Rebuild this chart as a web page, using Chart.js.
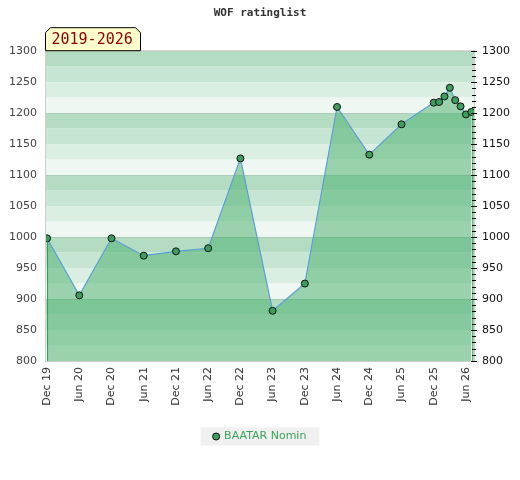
<!DOCTYPE html>
<html>
<head>
<meta charset="utf-8">
<script src="https://cdn.jsdelivr.net/npm/chart.js@4.4.1/dist/chart.umd.min.js"></script>
<style>
  html, body { margin: 0; padding: 0; background: #fff; }
</style>
</head>
<body>
<canvas id="myChart" width="520" height="480"></canvas>
<script>
// x = months counted from Dec 2019
const months = [0, 6, 12, 18, 24, 30, 36, 42, 48, 54, 60, 66, 72, 73, 74, 75, 76, 77, 78, 79];
const ratings = [998, 906, 998, 970, 977, 982, 1127, 881, 925, 1210, 1133, 1182, 1217, 1218, 1227, 1241, 1221, 1211, 1198, 1202];

const tickMonths = [0, 6, 12, 18, 24, 30, 36, 42, 48, 54, 60, 66, 72, 78];
const tickLabels = ['Dec 19', 'Jun 20', 'Dec 20', 'Jun 21', 'Dec 21', 'Jun 22', 'Dec 22',
                    'Jun 23', 'Dec 23', 'Jun 24', 'Dec 24', 'Jun 25', 'Dec 25', 'Jun 26'];

const playerName = 'BAATAR Nomin';
const periodLabel = '2019-2026';
const chartTitle = 'WOF ratinglist';

// background stripes, 25 points each, repeating every 100
const bandColors = ['#b3dcc3', '#c6e5d2', '#dbeee2', '#eff7f2'];

Chart.defaults.font.family = 'DejaVu Sans';
Chart.defaults.font.size = 11;

const stripes = {
  id: 'stripes',
  beforeDraw(chart) {
    const c = chart.ctx, a = chart.chartArea, y = chart.scales.y;
    c.save();
    for (let v = y.max; v > y.min; v -= 25) {
      const i = ((y.max - v) / 25) % 4;
      const top = y.getPixelForValue(v);
      const bot = y.getPixelForValue(v - 25);
      c.fillStyle = bandColors[i];
      c.fillRect(a.left, top, a.right - a.left, bot - top);
    }
    // grey box behind the legend
    const lg = chart.legend;
    if (lg && lg.legendHitBoxes && lg.legendHitBoxes.length) {
      const hb = lg.legendHitBoxes[0];
      c.fillStyle = '#f0f0f0';
      c.fillRect(hb.left - 13, hb.top + hb.height / 2 - 9, hb.width + 26, 18);
    }
    c.restore();
  }
};

const extras = {
  id: 'extras',
  afterDatasetsDraw(chart) {
    const c = chart.ctx, a = chart.chartArea;
    const pts = chart.getDatasetMeta(0).data;
    const first = pts[0], last = pts[pts.length - 1];
    c.save();
    c.strokeStyle = '#2e9a4e';
    c.lineWidth = 1;
    c.beginPath();
    c.moveTo(first.x + 0.5, first.y); c.lineTo(first.x + 0.5, a.bottom);
    c.moveTo(last.x + 1.5, last.y); c.lineTo(last.x + 1.5, a.bottom);
    c.stroke();
    c.restore();
  },
  afterDraw(chart) {
    const c = chart.ctx, a = chart.chartArea, yr = chart.scales.y2;
    c.save();
    // plot frame
    c.strokeStyle = '#cfcfcf';
    c.lineWidth = 1;
    c.strokeRect(a.left - 0.5, a.top - 0.5, a.right - a.left + 1, a.bottom - a.top + 1);
    // right axis tick marks
    c.strokeStyle = '#000';
    c.beginPath();
    for (let v = yr.min; v <= yr.max; v += 10) {
      const py = Math.round(yr.getPixelForValue(v)) + 0.5;
      const len = v % 50 === 0 ? 3 : 2;
      c.moveTo(a.right - len, py);
      c.lineTo(a.right + len, py);
    }
    c.stroke();
    // period tag
    const x0 = a.left - 0.5, x1 = a.left + 94.5, y0 = a.top - 23.5, y1 = a.top - 0.5, k = 5;
    c.beginPath();
    c.moveTo(x0, y1); c.lineTo(x0, y0 + k); c.lineTo(x0 + k, y0);
    c.lineTo(x1 - k, y0); c.lineTo(x1, y0 + k); c.lineTo(x1, y1);
    c.closePath();
    c.fillStyle = '#ffffcc';
    c.fill();
    c.strokeStyle = '#000';
    c.stroke();
    c.fillStyle = '#8b0000';
    c.font = '15px "DejaVu Sans Mono"';
    c.textBaseline = 'middle';
    c.textAlign = 'left';
    c.fillText(periodLabel, x0 + 6, (y0 + y1) / 2 + 1);
    c.restore();
  }
};

const points = months.map((m, i) => ({ x: m, y: ratings[i] }));

new Chart(document.getElementById('myChart'), {
  type: 'line',
  data: {
    datasets: [{
      label: playerName,
      data: points,
      fill: 'start',
      backgroundColor: 'rgba(70, 174, 106, 0.5)',
      borderColor: '#5b9fd6',
      borderWidth: 1.2,
      tension: 0,
      pointRadius: 3.5,
      pointBorderWidth: 1,
      pointBorderColor: '#111',
      pointBackgroundColor: '#3c9d5d',
      pointStyle: 'circle'
    }]
  },
  options: {
    responsive: false,
    animation: false,
    layout: { padding: { left: 0, right: 0, top: 0, bottom: 28 } },
    plugins: {
      title: {
        display: true,
        text: chartTitle,
        color: '#333',
        font: { family: 'DejaVu Sans Mono', size: 11, weight: 'bold' },
        padding: { top: 7, bottom: 31 }
      },
      legend: {
        position: 'bottom',
        labels: {
          usePointStyle: true,
          boxWidth: 5,
          boxHeight: 5,
          color: '#3aa55a',
          font: { size: 11 },
          padding: 8
        }
      },
      tooltip: { enabled: false }
    },
    scales: {
      x: {
        type: 'linear',
        min: -0.2,
        max: 79.5,
        afterBuildTicks: (s) => { s.ticks = tickMonths.map(v => ({ value: v })); },
        afterFit: (s) => { s.height = 62; },
        ticks: {
          autoSkip: false,
          minRotation: 90,
          maxRotation: 90,
          color: '#333',
          padding: 6,
          callback: (v) => tickLabels[tickMonths.indexOf(v)]
        },
        grid: { display: false, drawTicks: false },
        border: { display: false }
      },
      y: {
        position: 'left',
        min: 800,
        max: 1300,
        afterFit: (s) => { s.width = 46; },
        ticks: { stepSize: 50, color: '#444', padding: 9, callback: (v) => String(v) },
        grid: {
          drawTicks: false,
          color: (ctx) => (ctx.tick && ctx.tick.value % 100 === 0) ? 'rgba(0,0,0,0.09)' : 'rgba(0,0,0,0)'
        },
        border: { display: false }
      },
      y2: {
        position: 'right',
        min: 800,
        max: 1300,
        afterFit: (s) => { s.width = 46; },
        ticks: { stepSize: 50, color: '#111', padding: 8, callback: (v) => String(v) },
        grid: { display: false, drawTicks: false },
        border: { display: false }
      }
    }
  },
  plugins: [stripes, extras]
});
</script>
</body>
</html>
